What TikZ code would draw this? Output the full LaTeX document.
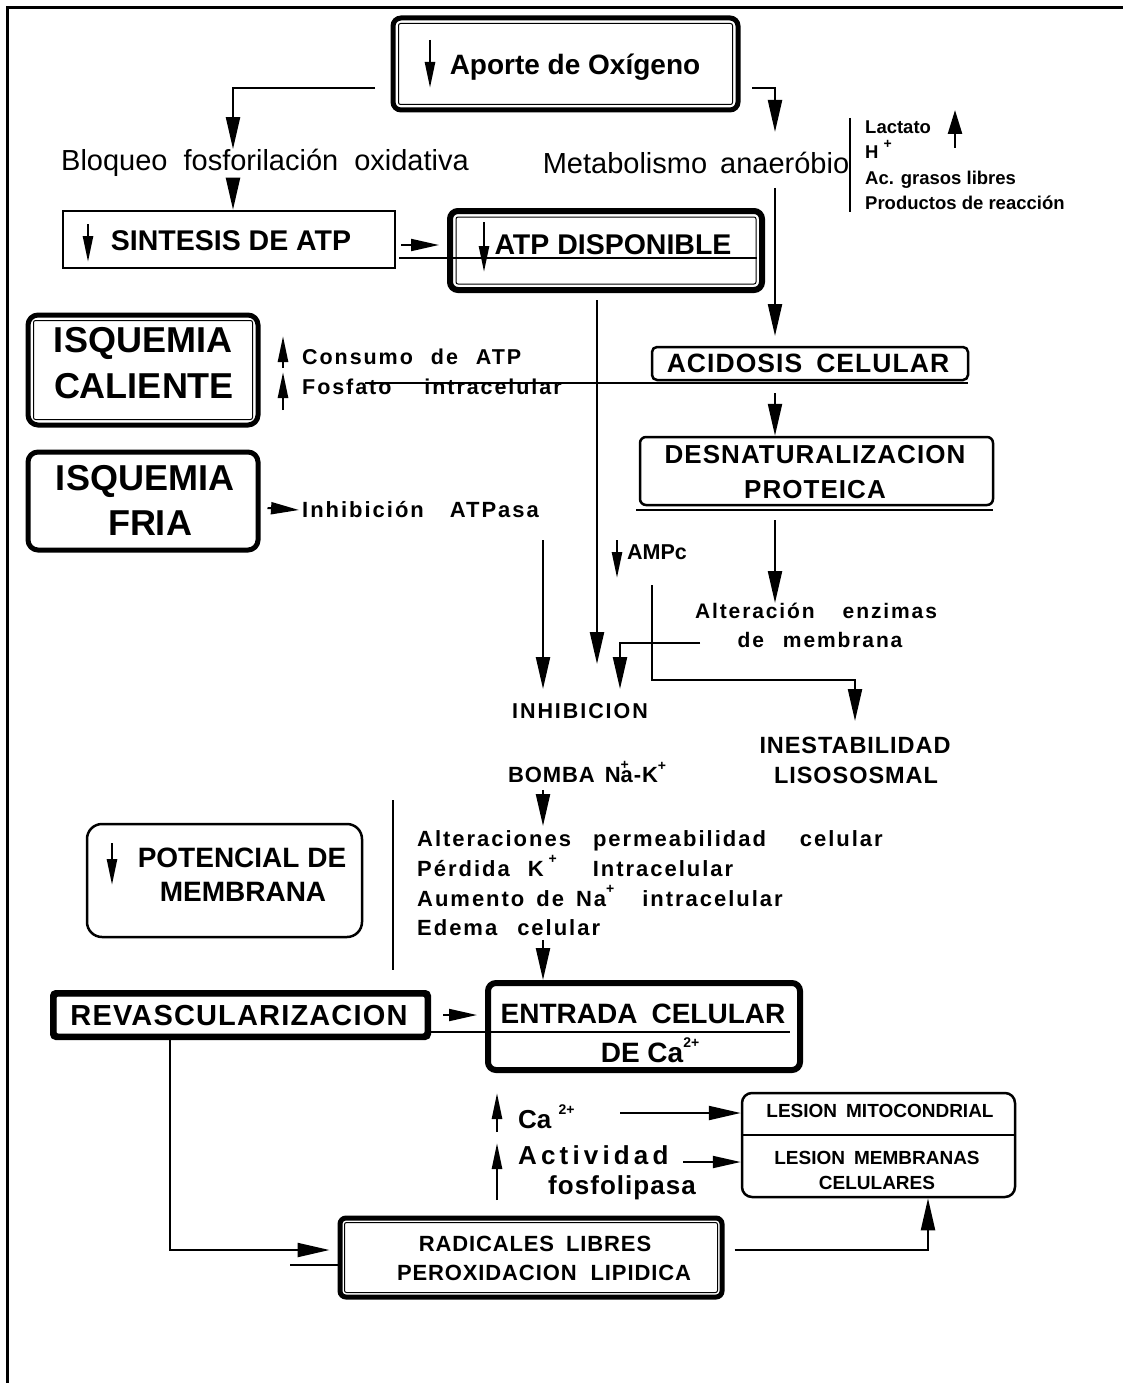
\documentclass[tikz,border=0pt]{standalone}
\usepackage{fontspec}
\setmainfont{Liberation Sans}
\newfontfamily\lsa[LetterSpace=4]{Liberation Sans}
\newfontfamily\lsb[LetterSpace=9]{Liberation Sans}
\newfontfamily\lsc[LetterSpace=16]{Liberation Sans}
\usetikzlibrary{arrows.meta}
\newcommand\fsz[1]{\fontsize{#1}{#1}\selectfont}
\newcommand\gap[1]{\hspace{#1pt}}
\newcommand\boxnode[6]{\node[#2, minimum width={#5pt-#3pt}, minimum height={#6pt-#4pt}] (#1) at ({(#3+#5)/2},{(#4+#6)/2}) {};}
\newcommand\innerline[2]{\draw[line width=1pt, rounded corners=2pt] ([shift={(#2,#2)}]#1.north west) rectangle ([shift={(-#2,-#2)}]#1.south east);}
\newcommand\supp[1]{\raisebox{0.55em}{\fontsize{14}{14}\selectfont #1}}
\begin{document}
\begin{tikzpicture}[x=1pt,y=-1pt,
  lbl/.style={inner sep=0pt, font=\bfseries},
  thinbox/.style={draw, line width=2.5pt, inner sep=0pt},
  thickbox/.style={draw, line width=5pt, inner sep=0pt, rounded corners=8pt},
  arr/.style={-{Triangle[length=32pt,width=14pt]}, line width=2.2pt},
  sarr/.style={-{Triangle[length=28pt,width=12pt]}, line width=2pt},
  glyph/.style={-{Triangle[length=26pt,width=10pt]}, line width=2.5pt},
  rule/.style={line width=2pt}]
\useasboundingbox (0,0) rectangle (1123,1383);
\fill[white] (0,0) rectangle (1123,1383);
% frame
\draw[line width=3pt] (7,1383) -- (7,8) -- (1123,8);

% Aporte
\boxnode{aporte}{thickbox}{393}{18}{738}{110}
\innerline{aporte}{8}
\node[lbl, font=\bfseries\fsz{28}] (aportetxt) at (575,67) {Aporte de Oxígeno};
\draw[glyph] (430,40) -- (430,88);
\coordinate (aL) at (375,88);
\coordinate (aR) at (752,88);

% Bloqueo / Metabolismo
\node[inner sep=0pt, font=\fsz{29}] (bloq) at (265,163) {Bloqueo\gap{16}fosforilación\gap{16}oxidativa};
\node[inner sep=0pt, font=\fsz{29}] (metab) at (696,163) {Metabolismo\gap{13}anaeróbio};
\draw[arr] (aL) -| (bloq.north -| 233,0);
\draw[arr] (aR) -| (775,132);

% side list
\draw[line width=2.5pt] (850,118) -- (850,212);
\node[lbl, anchor=base west, font=\bfseries\fsz{18.5}] (lact) at (865,134) {Lactato};
\node[lbl, anchor=base west, font=\bfseries\fsz{18.5}] (hplus) at (865,159) {H \supp{+}};
\node[lbl, anchor=base west, font=\bfseries\fsz{18.5}] (acgr) at (865,185) {Ac. grasos libres};
\node[lbl, anchor=base west, font=\bfseries\fsz{18.5}] (prod) at (865,209) {Productos de reacción};
\draw[glyph, -{Triangle[length=24pt,width=14pt]}] (955,148) -- (955,110);

% SINTESIS
\boxnode{sint}{thinbox}{63}{211}{395}{268}
\node[lbl, font=\bfseries\fsz{28.5}] (sinttxt) at (231,241) {SINTESIS DE ATP};
\draw[glyph] (88,224) -- (88,262);
\draw[arr] (233,185) -- (sint.north -| 233,0);

% ATP disponible
\boxnode{atp}{thickbox, line width=6pt}{450}{211}{762}{290}
\innerline{atp}{9}
\node[lbl, font=\bfseries\fsz{28.5}] (atptxt) at (613,245) {ATP DISPONIBLE};
\draw[glyph] (484,222) -- (484,272);
\draw[sarr] ([xshift=5pt]sint.east |- 0,245) -- ([xshift=-8pt]atp.west |- 0,245);
\draw[rule] ([xshift=3pt]sint.east |- 0,258) -- (757,258);

% ISQUEMIA CALIENTE
\boxnode{caliente}{thickbox, rounded corners=10pt}{28}{315}{258}{425}
\innerline{caliente}{8}
\node[lbl, font=\bfseries\fsz{36}] (cal1) at (143,343) {ISQUEMIA};
\node[lbl, font=\bfseries\fsz{36}] (cal2) at (144,386) {CALIENTE};
\draw[glyph] (283,368) -- (283,336);
\draw[glyph] (283,410) -- (283,372);
\node[lbl, anchor=west, font=\bfseries\lsb\fsz{21.5}] (consumo) at (302,357) {Consumo\gap{18}de\gap{18}ATP};
\node[lbl, anchor=west, font=\bfseries\lsb\fsz{21.5}] (fosfato) at (302,387) {Fosfato\gap{33}intracelular};

% ISQUEMIA FRIA
\boxnode{fria}{thickbox, rounded corners=10pt}{28}{452}{258}{550}
\node[lbl, font=\bfseries\fsz{36}] (fria1) at (145,481) {ISQUEMIA};
\node[lbl, font=\bfseries\fsz{36}] (fria2) at (150,523) {FRIA};
\node[lbl, anchor=west, font=\bfseries\lsb\fsz{22}] (inhatp) at (302,510) {Inhibición\gap{26}ATPasa};
\draw[sarr] ([xshift=7pt]fria.east |- 0,508) -- ([xshift=-3pt]inhatp.west);

% ACIDOSIS
\draw[arr] (775,188) -- (775,336);
\boxnode{acid}{thinbox, rounded corners=5pt}{652}{347}{968}{380}
\node[lbl, font=\bfseries\lsa\fsz{26.5}] (acidtxt) at (808,363) {ACIDOSIS\gap{14}CELULAR};
\draw[rule] (365,383) -- (968,383);

% DESNATURALIZACION
\boxnode{desn}{thinbox, rounded corners=6pt}{640}{437}{993}{505}
\draw[arr] (775,393) -- (desn.north -| 775,0);
\node[lbl, font=\bfseries\lsa\fsz{26}] (desn1) at (815,455) {DESNATURALIZACION};
\node[lbl, font=\bfseries\lsa\fsz{26}] (desn2) at (815,490) {PROTEICA};
\draw[line width=2.5pt] (636,510) -- (993,510);

% Alteracion enzimas
\node[lbl, font=\bfseries\lsb\fsz{21}] (alt1) at (816,611) {Alteración\gap{28}enzimas};
\node[lbl, font=\bfseries\lsb\fsz{21}] (alt2) at (820,640) {de\gap{19}membrana};
\draw[arr] (775,520) -- (alt1.north -| 775,0);

% AMPc
\draw[glyph] (617,540) -- (617,578);
\node[lbl, anchor=west, font=\bfseries\fsz{21.5}] (ampc) at (627,552) {AMPc};

% INHIBICION
\node[lbl, font=\bfseries\lsb\fsz{21.5}] (inhib) at (580,711) {INHIBICION};
\draw[arr] (597,300) -- (597,664);
\draw[arr] (543,540) -- (543,689);
\draw[arr] (700,643) -| (620,689);

% INESTABILIDAD
\node[lbl, font=\bfseries\lsa\fsz{23.5}] (inest1) at (855,745) {INESTABILIDAD};
\node[lbl, font=\bfseries\lsa\fsz{23.5}] (inest2) at (856,775) {LISOSOSMAL};
\draw[arr] (652,585) -- (652,680) -| (855,721);

% BOMBA
\node[lbl, anchor=west, font=\bfseries\lsa\fsz{22}] (bomba) at (508,772) {BOMBA\gap{10}N\makebox[0pt][l]{\raisebox{0.08em}{\supp{+}}}a-K\supp{+}};
\draw[arr] (543,790) -- (543,826);

% POTENCIAL
\draw[line width=2.5pt] (393,800) -- (393,970);
\boxnode{pot}{thinbox, rounded corners=15pt}{87}{824}{362}{937}
\node[lbl, font=\bfseries\fsz{28}] (pot1) at (242,858) {POTENCIAL DE};
\node[lbl, font=\bfseries\fsz{28}] (pot2) at (243,892) {MEMBRANA};
\draw[glyph] (112,843) -- (112,885);

% alteraciones
\node[lbl, anchor=base west, font=\bfseries\lsb\fsz{22}] (l1) at (417,846) {Alteraciones\gap{22}permeabilidad\gap{34}celular};
\node[lbl, anchor=base west, font=\bfseries\lsb\fsz{22}] (l2) at (417,876) {Pérdida\gap{18}K\gap{5}\supp{+}\gap{36}Intracelular};
\node[lbl, anchor=base west, font=\bfseries\lsb\fsz{22}] (l3) at (417,906) {Aumento\gap{12}de\gap{12}Na\supp{+}\gap{28}intracelular};
\node[lbl, anchor=base west, font=\bfseries\lsb\fsz{22}] (l4) at (417,935) {Edema\gap{20}celular};

% ENTRADA CELULAR
\boxnode{entr}{thickbox, line width=6pt}{488}{983}{800}{1070}
\draw[arr] (543,940) -- (entr.north -| 543,0);
\node[lbl, font=\bfseries\fsz{28}] (entr1) at (643,1014) {ENTRADA\gap{14}CELULAR};
\node[lbl, font=\bfseries\fsz{28}] (entr2) at (650,1050) {DE Ca\supp{2+}};

% REVASCULARIZACION
\boxnode{rev}{thickbox, line width=6pt, rounded corners=3pt}{53}{993}{428}{1037}
\innerline{rev}{6}
\node[lbl, font=\bfseries\lsa\fsz{29}] (revtxt) at (239,1016) {REVASCULARIZACION};
\draw[sarr] ([xshift=12pt]rev.east |- 0,1015) -- ([xshift=-8pt]entr.west |- 0,1015);
\draw[rule] (rev.east |- 0,1032) -- (790,1032);

% RADICALES
\boxnode{rad}{thickbox, rounded corners=6pt}{340}{1218}{722}{1297}
\innerline{rad}{7}
\node[lbl, font=\bfseries\lsa\fsz{22}] (rad1) at (535,1244) {RADICALES\gap{12}LIBRES};
\node[lbl, font=\bfseries\lsa\fsz{22}] (rad2) at (544,1273) {PEROXIDACION\gap{14}LIPIDICA};
\draw[arr] (rev.south -| 170,0) -- (170,1250) -- ([xshift=-8pt]rad.west |- 0,1250);
\draw[rule] (290,1265) -- (rad.west |- 0,1265);

% LESION
\boxnode{les}{thinbox, rounded corners=10pt}{742}{1093}{1015}{1197}
\draw[line width=2.5pt] (les.west |- 0,1135) -- (les.east |- 0,1135);
\node[lbl, font=\bfseries\fsz{19}] (les1) at (880,1111) {LESION\gap{9}MITOCONDRIAL};
\node[lbl, font=\bfseries\fsz{19}] (les2) at (877,1158) {LESION\gap{9}MEMBRANAS};
\node[lbl, font=\bfseries\fsz{19}] (les3) at (877,1183) {CELULARES};
\draw[arr] ([xshift=10pt]rad.east |- 0,1250) -| (les.south -| 928,0);

% Ca / Actividad
\draw[glyph] (497,1132) -- (497,1093);
\node[lbl, anchor=west, font=\bfseries\fsz{26}] (ca) at (518,1117) {Ca \supp{2+}};
\draw[arr] (620,1113) -- (les.west |- 0,1113);
\draw[glyph] (497,1200) -- (497,1143);
\node[lbl, anchor=west, font=\bfseries\lsc\fsz{26}] (activ) at (518,1155) {Actividad};
\draw[sarr] (683,1162) -- (les.west |- 0,1162);
\node[lbl, anchor=west, font=\bfseries\lsa\fsz{26}] (fosfo) at (548,1188) {fosfolipasa};
\end{tikzpicture}
\end{document}
